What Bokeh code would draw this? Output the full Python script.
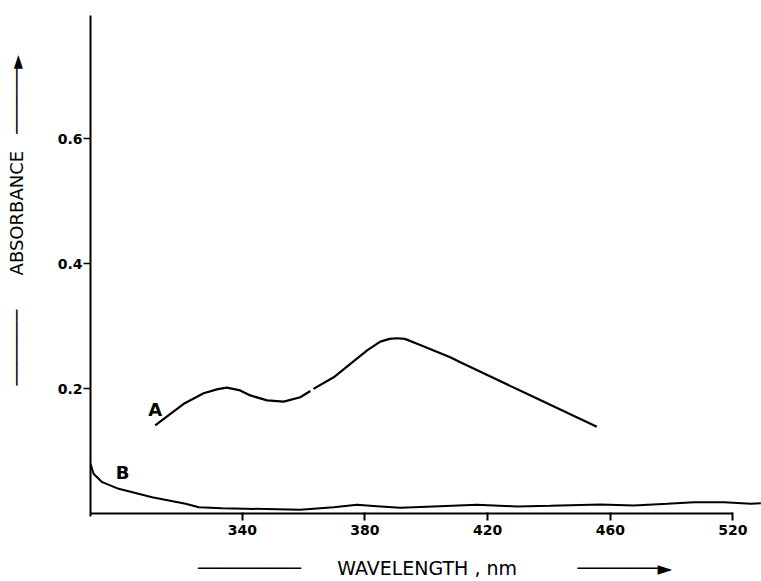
import numpy as np
from bokeh.plotting import figure
from bokeh.models import Range1d, FixedTicker, Label, ColumnDataSource
from bokeh.embed import file_html
from bokeh.resources import INLINE

# Curve A (NaN marks the small gap in the trace)
wavelength_a = [311.6, 320.9, 327.4, 332.0, 335.0, 339.3, 342.6, 348.1, 353.5, 358.9, 362.2, np.nan,
                363.2, 369.8, 380.7, 385.0, 388.0, 390.4, 393.0, 397.0, 407.8, 411.1, 432.8, 455.6]
absorbance_a = [0.141, 0.1755, 0.1925, 0.199, 0.2015, 0.197, 0.189, 0.181, 0.179, 0.186, 0.196, np.nan,
                0.1995, 0.218, 0.261, 0.275, 0.2795, 0.2805, 0.2795, 0.2715, 0.250, 0.242, 0.1915, 0.139]

# Curve B
wavelength_b = [290.5, 291.5, 294.3, 299.7, 310.6, 321.5, 325.8, 333.4, 358.9, 369.8, 377.4, 383.9,
                391.5, 402.4, 416.5, 429.6, 440.4, 456.8, 467.6, 478.6, 487.3, 497.1, 505.8, 509.1]
absorbance_b = [0.0795, 0.0635, 0.0501, 0.0395, 0.0261, 0.0155, 0.0101, 0.0085, 0.0059, 0.0101, 0.0139, 0.0117,
                0.0091, 0.0112, 0.0139, 0.0112, 0.0123, 0.0144, 0.0128, 0.0155, 0.0181, 0.0181, 0.0155, 0.0165]

x_ticks = [340, 380, 420, 460, 500]
x_tick_labels = ["340", "380", "420", "460", "520"]
y_ticks = [0.2, 0.4, 0.6]
y_tick_labels = ["0.2", "0.4", "0.6"]

x_title = "WAVELENGTH , nm"
y_title = "ABSORBANCE"

x_start, x_end = 290.5, 509.3
y_start, y_end = -0.0048, 0.797

NB = "\u00a0"
LN = "\u2500"
HEAD = "\u25ba"

p = figure(width=761, height=581, output_backend="svg", toolbar_location=None,
           x_range=Range1d(x_start, x_end), y_range=Range1d(y_start, y_end),
           min_border_left=90, min_border_right=0, min_border_top=15, min_border_bottom=65)
p.outline_line_color = None
p.xgrid.visible = False
p.ygrid.visible = False
p.background_fill_color = "white"
p.border_fill_color = "white"

# axes
xa = p.xaxis[0]
xa.ticker = FixedTicker(ticks=x_ticks)
xa.major_label_overrides = {t: l for t, l in zip(x_ticks, x_tick_labels)}
xa.axis_line_color = None
xa.major_tick_in = 4
xa.major_tick_out = 4
xa.major_tick_line_width = 2
xa.major_tick_line_color = "black"
xa.minor_tick_line_color = None
xa.major_label_standoff = 4
xa.major_label_text_font = "DejaVu Sans"
xa.major_label_text_font_style = "bold"
xa.major_label_text_font_size = "14px"
xa.major_label_text_color = "black"
xa.axis_label = NB * 3 + LN * 9 + NB * 6 + x_title + NB * 10 + LN * 7 + HEAD
xa.axis_label_text_font = "DejaVu Sans"
xa.axis_label_text_font_style = "normal"
xa.axis_label_text_font_size = "19px"
xa.axis_label_text_color = "black"
xa.axis_label_standoff = 19

ya = p.yaxis[0]
ya.ticker = FixedTicker(ticks=y_ticks)
ya.major_label_overrides = {t: l for t, l in zip(y_ticks, y_tick_labels)}
ya.axis_line_width = 2
ya.axis_line_color = "black"
ya.major_tick_in = 0
ya.major_tick_out = 7
ya.major_tick_line_width = 1.5
ya.major_tick_line_color = "black"
ya.minor_tick_line_color = None
ya.major_label_standoff = 1
ya.major_label_text_font = "DejaVu Sans"
ya.major_label_text_font_style = "bold"
ya.major_label_text_font_size = "14px"
ya.major_label_text_color = "black"
ya.axis_label = NB * 16 + LN * 7 + NB * 6 + y_title + NB * 3 + LN * 6 + HEAD
ya.axis_label_text_font = "DejaVu Sans"
ya.axis_label_text_font_style = "normal"
ya.axis_label_text_font_size = "18px"
ya.axis_label_text_color = "black"
ya.axis_label_standoff = 28

# baseline (x-axis line ends at the last tick)
p.segment(x0=[x_start], y0=[0], x1=[x_ticks[-1]], y1=[0], line_color="black", line_width=2.2)

src_a = ColumnDataSource(dict(x=wavelength_a, y=absorbance_a))
src_b = ColumnDataSource(dict(x=wavelength_b, y=absorbance_b))
p.line("x", "y", source=src_a, line_color="black", line_width=2.2)
p.line("x", "y", source=src_b, line_color="black", line_width=2)

p.add_layout(Label(x=wavelength_a[0], y=absorbance_a[0] + 0.025, text="A", text_align="center",
                   text_baseline="middle", text_font="DejaVu Sans", text_font_style="bold",
                   text_font_size="18px", text_color="black"))
p.add_layout(Label(x=301.0, y=0.066, text="B", text_align="center",
                   text_baseline="middle", text_font="DejaVu Sans", text_font_style="bold",
                   text_font_size="18px", text_color="black"))

open("out.html", "w").write(file_html(p, INLINE))
